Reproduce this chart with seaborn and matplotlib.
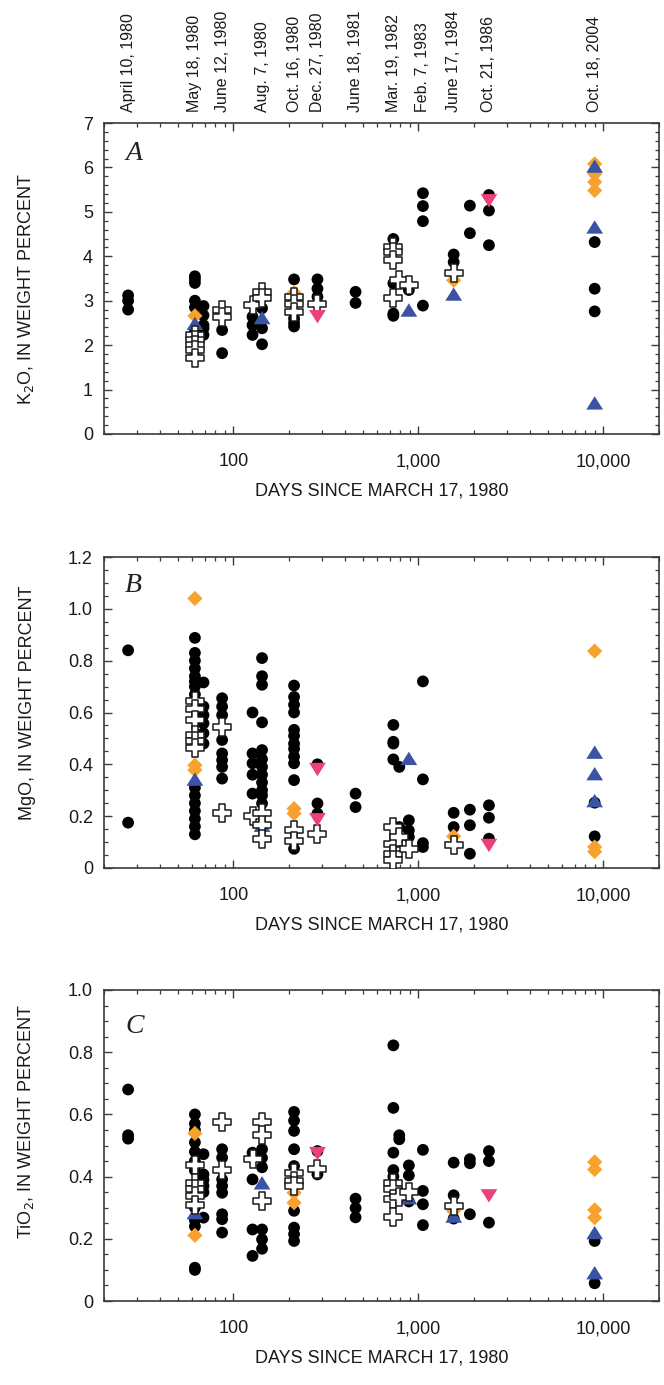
import numpy as np
import pandas as pd
import matplotlib
matplotlib.use("Agg")
import matplotlib.pyplot as plt
from matplotlib.ticker import MultipleLocator, FuncFormatter, NullFormatter, LogLocator
from matplotlib.transforms import blended_transform_factory
import seaborn as sns

# ---------------------------------------------------------------- data
# sampling columns, days since March 17, 1980
date_labels = ["April 10, 1980", "May 18, 1980", "June 12, 1980", "Aug. 7, 1980",
               "Oct. 16, 1980", "Dec. 27, 1980", "June 18, 1981", "Mar. 19, 1982",
               "Feb. 7, 1983", "June 17, 1984", "Oct. 21, 1986", "Oct. 18, 2004"]
date_days = [27, 62, 87, 143, 213, 285, 458, 733, 1059, 1553, 2409, 8981]

# ---- K2O (panel A)
k2o_dot_days = ([27] * 3 + [62] * 6 + [69] * 5 + [87] * 2 + [127] * 3 + [143] * 3 + [213] * 4
                + [285] * 3 + [458] * 2 + [733] * 4 + [889] + [1059] * 4 + [1553] * 2
                + [1900] * 2 + [2409] * 3 + [8981] * 3)
k2o_dot = [3.12, 3.00, 2.80,
           3.55, 3.48, 3.40, 3.00, 2.85, 2.30,
           2.88, 2.67, 2.45, 2.38, 2.23,
           2.34, 1.82,
           2.64, 2.45, 2.23,
           2.83, 2.38, 2.02,
           3.48, 2.42, 2.60, 2.50,
           3.48, 3.27, 3.09,
           3.20, 2.95,
           4.39, 3.39, 2.71, 2.66,
           3.24,
           5.42, 5.13, 4.79, 2.89,
           4.04, 3.87,
           5.14, 4.52,
           5.38, 5.03, 4.25,
           4.32, 3.27, 2.76]
k2o_plus_days = [62] * 5 + [87] * 2 + [127] + [143] * 2 + [213] * 3 + [285] + [733] * 4 + [789, 889, 1553]
k2o_plus = [2.23, 2.11, 2.00, 1.89, 1.70,
            2.79, 2.64,
            2.90,
            3.20, 3.05,
            3.09, 2.92, 2.75,
            2.92,
            4.21, 4.10, 3.91, 3.07,
            3.46, 3.35, 3.63]
k2o_diamond_days = [62, 62, 213, 1553, 8981, 8981, 8981, 8981]
k2o_diamond = [2.66, 1.78, 3.18, 3.46, 6.08, 5.85, 5.67, 5.48]
k2o_up_days = [62, 143, 889, 1553, 8981, 8981, 8981]
k2o_up = [2.49, 2.62, 2.79, 3.15, 6.03, 4.66, 0.70]
k2o_down_days = [285, 2409]
k2o_down = [2.64, 5.25]

# ---- MgO (panel B)
mgo_dot_days = ([27] * 2 + [62] * 16 + [69] * 6 + [87] * 8 + [127] * 5 + [143] * 12 + [213] * 12
                + [285] * 3 + [458] * 2 + [733] * 4 + [789] * 2 + [889] * 3 + [1059] * 4
                + [1553] * 2 + [1900] * 3 + [2409] * 3 + [8981] * 2)
mgo_dot = [0.84, 0.175,
           0.888, 0.83, 0.80, 0.77, 0.74, 0.72, 0.70, 0.67, 0.65, 0.31, 0.28, 0.25, 0.22, 0.19, 0.16, 0.13,
           0.716, 0.623, 0.59, 0.558, 0.52, 0.48,
           0.655, 0.623, 0.59, 0.494, 0.442, 0.416, 0.39, 0.345,
           0.60, 0.442, 0.404, 0.36, 0.287,
           0.81, 0.74, 0.707, 0.562, 0.455, 0.42, 0.39, 0.36, 0.33, 0.30, 0.28, 0.249,
           0.704, 0.66, 0.63, 0.60, 0.533, 0.51, 0.48, 0.46, 0.43, 0.404, 0.339, 0.074,
           0.40, 0.249, 0.21,
           0.287, 0.235,
           0.552, 0.487, 0.48, 0.419,
           0.39, 0.158,
           0.184, 0.145, 0.12,
           0.72, 0.342, 0.096, 0.081,
           0.213, 0.158,
           0.225, 0.165, 0.055,
           0.242, 0.194, 0.113,
           0.252, 0.122]
mgo_plus_days = [62] * 6 + [87] * 2 + [127] + [143] * 3 + [213] * 2 + [285] + [733] * 4 + [789, 889, 1553]
mgo_plus = [0.643, 0.615, 0.57, 0.514, 0.49, 0.462,
            0.545, 0.212,
            0.20,
            0.212, 0.165, 0.113,
            0.145, 0.106,
            0.13,
            0.158, 0.094, 0.055, 0.029,
            0.12, 0.074, 0.087]
mgo_diamond_days = [62, 62, 62, 213, 213, 1553, 8981, 8981, 8981]
mgo_diamond = [1.04, 0.397, 0.378, 0.229, 0.21, 0.122, 0.837, 0.081, 0.063]
mgo_up_days = [62, 143, 889, 8981, 8981, 8981]
mgo_up = [0.343, 0.165, 0.423, 0.447, 0.364, 0.26]
mgo_down_days = [285, 285, 2409]
mgo_down = [0.38, 0.186, 0.087]

# ---- TiO2 (panel C)
tio2_dot_days = ([27] * 3 + [62] * 12 + [69] * 6 + [87] * 8 + [127] * 4 + [143] * 6 + [213] * 9
                 + [285] * 2 + [458] * 3 + [733] * 5 + [789] * 2 + [889] * 3 + [1059] * 4
                 + [1553] * 3 + [1900] * 3 + [2409] * 3 + [8981] * 2)
tio2_dot = [0.68, 0.533, 0.522,
            0.60, 0.57, 0.55, 0.51, 0.48, 0.45, 0.42, 0.30, 0.26, 0.24, 0.107, 0.10,
            0.472, 0.407, 0.39, 0.37, 0.35, 0.268,
            0.488, 0.461, 0.391, 0.37, 0.348, 0.279, 0.263, 0.22,
            0.477, 0.391, 0.23, 0.145,
            0.488, 0.46, 0.43, 0.23, 0.198, 0.168,
            0.608, 0.58, 0.547, 0.488, 0.434, 0.29, 0.236, 0.215, 0.193,
            0.482, 0.407,
            0.329, 0.299, 0.269,
            0.822, 0.621, 0.477, 0.421, 0.40,
            0.533, 0.52,
            0.436, 0.404, 0.32,
            0.486, 0.354, 0.311, 0.244,
            0.445, 0.34, 0.265,
            0.456, 0.443, 0.279,
            0.482, 0.45, 0.252,
            0.193, 0.057]
tio2_plus_days = [62] * 5 + [87] * 2 + [127] + [143] * 3 + [213] * 3 + [285] + [733] * 4 + [789, 889, 1553]
tio2_plus = [0.436, 0.38, 0.36, 0.338, 0.31,
             0.576, 0.421,
             0.456,
             0.576, 0.533, 0.322,
             0.413, 0.386, 0.37,
             0.426,
             0.378, 0.36, 0.327, 0.271,
             0.336, 0.35, 0.304]
tio2_diamond_days = [62, 62, 213, 213, 1553, 8981, 8981, 8981, 8981]
tio2_diamond = [0.539, 0.211, 0.348, 0.316, 0.29, 0.447, 0.423, 0.293, 0.268]
tio2_up_days = [62, 143, 889, 1553, 8981, 8981]
tio2_up = [0.284, 0.38, 0.332, 0.273, 0.22, 0.091]
tio2_down_days = [285, 2409]
tio2_down = [0.474, 0.338]

# ---------------------------------------------------------------- style
sns.set_theme(style="ticks")
plt.rcParams["font.family"] = ["Liberation Sans Narrow", "Liberation Sans", "DejaVu Sans"]
plt.rcParams["mathtext.fontset"] = "custom"
plt.rcParams["mathtext.rm"] = "Liberation Sans Narrow"
plt.rcParams["mathtext.it"] = "Liberation Sans Narrow:italic"

SPINE = "#3a3a3a"
ORANGE = "#F7A12E"
BLUE = "#3A53A4"
PINK = "#EC3F7E"
TRI_UP = [(-1.0, -0.8), (1.0, -0.8), (0.0, 0.8)]
TRI_DOWN = [(-1.0, 0.8), (1.0, 0.8), (0.0, -0.8)]

fig = plt.figure(figsize=(6.64, 13.85), dpi=100)
left, width = 104 / 664, 555 / 664
boxes = [(1 - 434 / 1385, 311 / 1385),
         (1 - 868 / 1385, 311 / 1385),
         (1 - 1301 / 1385, 311 / 1385)]

panels = [
    dict(letter="A", ylabel="K$_2$O, IN WEIGHT PERCENT", ymax=7, major=1, minor=0.2,
         ylab_y=0.466, let_y=0.881, top_dates=True,
         dots=(k2o_dot_days, k2o_dot), plus=(k2o_plus_days, k2o_plus),
         dia=(k2o_diamond_days, k2o_diamond), up=(k2o_up_days, k2o_up), down=(k2o_down_days, k2o_down)),
    dict(letter="B", ylabel="MgO, IN WEIGHT PERCENT", ymax=1.2, major=0.2, minor=0.05,
         ylab_y=0.53, let_y=0.887, top_dates=False,
         dots=(mgo_dot_days, mgo_dot), plus=(mgo_plus_days, mgo_plus),
         dia=(mgo_diamond_days, mgo_diamond), up=(mgo_up_days, mgo_up), down=(mgo_down_days, mgo_down)),
    dict(letter="C", ylabel="TiO$_2$, IN WEIGHT PERCENT", ymax=1.0, major=0.2, minor=0.05,
         ylab_y=0.579, let_y=0.862, top_dates=False,
         dots=(tio2_dot_days, tio2_dot), plus=(tio2_plus_days, tio2_plus),
         dia=(tio2_diamond_days, tio2_diamond), up=(tio2_up_days, tio2_up), down=(tio2_down_days, tio2_down)),
]


def ytick_fmt(step):
    def f(v, _):
        if abs(v) < 1e-9:
            return "0"
        return f"{v:.0f}" if step >= 1 else f"{v:.1f}"
    return FuncFormatter(f)


for (bottom, height), p in zip(boxes, panels):
    ax = fig.add_axes([left, bottom, width, height])

    def frame(pair):
        return pd.DataFrame({"day": pair[0], "value": pair[1]})

    sns.scatterplot(data=frame(p["dots"]), x="day", y="value", ax=ax, marker="o", s=72,
                    color="black", edgecolor="none", linewidth=0, zorder=3)
    sns.scatterplot(data=frame(p["dia"]), x="day", y="value", ax=ax, marker="D", s=60,
                    color=ORANGE, edgecolor="none", linewidth=0, zorder=4)
    sns.scatterplot(data=frame(p["up"]), x="day", y="value", ax=ax, marker=TRI_UP, s=145,
                    color=BLUE, edgecolor="none", linewidth=0, zorder=5)
    sns.scatterplot(data=frame(p["plus"]), x="day", y="value", ax=ax, marker="P", s=150,
                    color="white", edgecolor="#1a1a1a", linewidth=1.1, zorder=6)
    sns.scatterplot(data=frame(p["down"]), x="day", y="value", ax=ax, marker=TRI_DOWN, s=145,
                    color=PINK, edgecolor="none", linewidth=0, zorder=7)

    ax.set_xscale("log")
    ax.set_xlim(20, 20000)
    ax.set_ylim(0, p["ymax"])
    ax.xaxis.set_major_locator(LogLocator(base=10, numticks=10))
    ax.xaxis.set_minor_locator(LogLocator(base=10, subs=np.arange(2, 10), numticks=20))
    ax.xaxis.set_major_formatter(FuncFormatter(lambda v, _: f"{int(round(v)):,}"))
    ax.xaxis.set_minor_formatter(NullFormatter())
    ax.yaxis.set_major_locator(MultipleLocator(p["major"]))
    ax.yaxis.set_minor_locator(MultipleLocator(p["minor"]))
    ax.yaxis.set_major_formatter(ytick_fmt(p["major"]))

    ax.tick_params(which="both", direction="in", top=True, right=True, colors=SPINE,
                   labelcolor="#1a1a1a", labelsize=13)
    ax.tick_params(which="major", length=5.5, width=1.0)
    ax.tick_params(which="minor", length=3.0, width=0.9)
    ax.tick_params(axis="x", which="major", pad=14)
    ax.tick_params(axis="y", which="major", pad=8)
    for sp in ax.spines.values():
        sp.set_color(SPINE)
        sp.set_linewidth(1.2)
        sp.set_visible(True)

    ax.set_xlabel("DAYS SINCE MARCH 17, 1980", fontsize=13, color="#1a1a1a")
    ax.xaxis.set_label_coords(0.5, -0.155)
    ax.set_ylabel(p["ylabel"], fontsize=13, color="#1a1a1a")
    ax.yaxis.set_label_coords(-0.122, p["ylab_y"])

    ax.text(0.038, p["let_y"], p["letter"], transform=ax.transAxes, fontsize=20,
            family="Liberation Serif", style="italic", color="#222222", va="baseline")

    if p["top_dates"]:
        trans = blended_transform_factory(ax.transData, ax.transAxes)
        for d, lab in zip(date_days, date_labels):
            ax.text(d, 1.035, lab, transform=trans, rotation=90, ha="center", va="bottom",
                    fontsize=11.5, color="#1a1a1a")

fig.savefig("out.png", dpi=100)
